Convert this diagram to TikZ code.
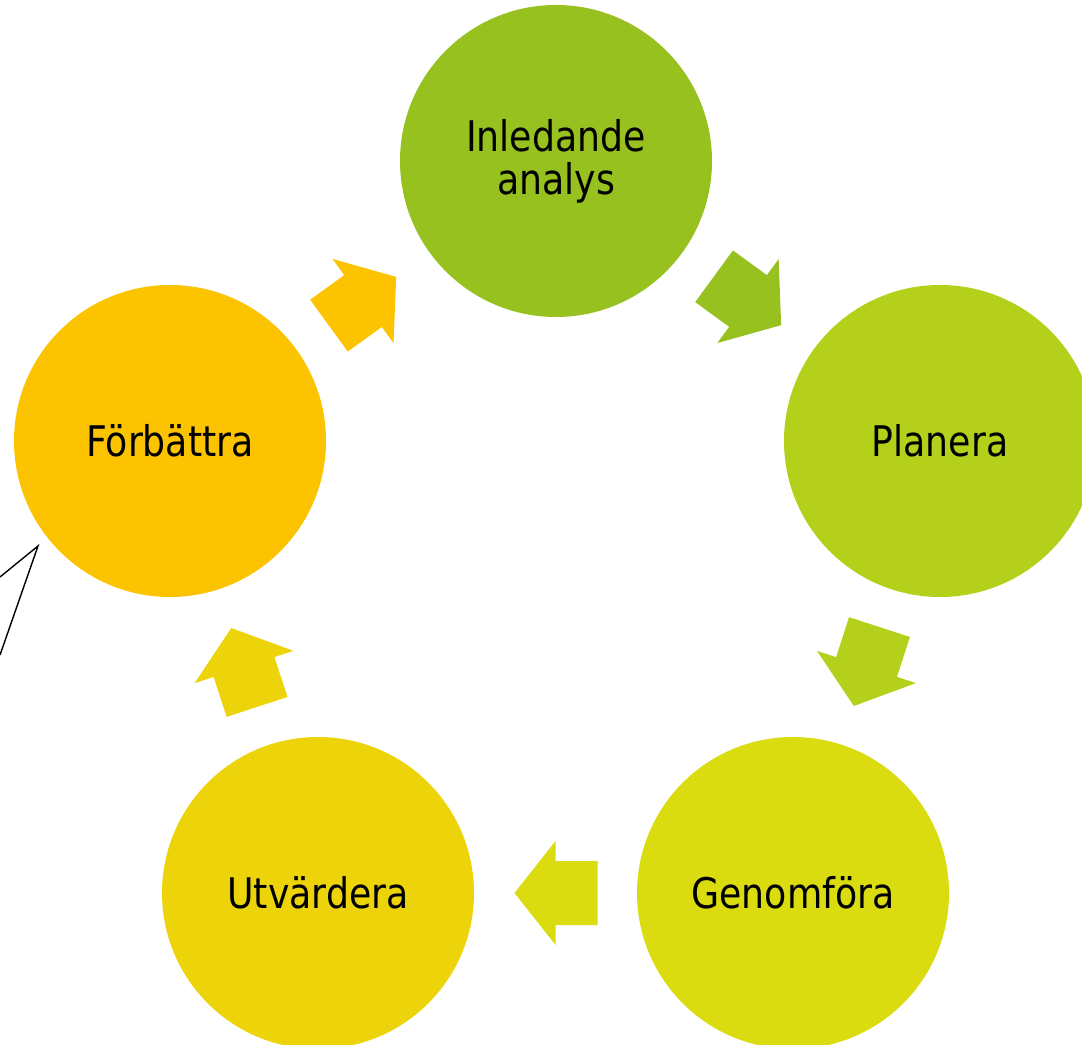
\documentclass[tikz,border=0pt]{standalone}
\usepackage{fontspec}
\setmainfont{DejaVu Sans}[FakeStretch=0.86]
\usepackage{tikz}
\usetikzlibrary{calc}
\usetikzlibrary{positioning}
\definecolor{analyscol}{HTML}{96C11F}
\definecolor{planeracol}{HTML}{B4D01A}
\definecolor{genomforacol}{HTML}{DADC10}
\definecolor{utvarderacol}{HTML}{EDD40A}
\definecolor{forbattracol}{HTML}{FCC300}
\tikzset{phase/.style = {circle, inner sep = 0, minimum size = 31.2mm, align = center,
    font = \fontsize{12pt}{12.3pt}\selectfont}}
\newcommand{\phasearrow}[3]{%
    \pgfmathanglebetweenpoints{\pgfpointanchor{#1}{center}}{\pgfpointanchor{#2}{center}}%
    \let\arrowangle\pgfmathresult
    \fill[#3, shift = {($(#1)!0.5!(#2)$)}, rotate = \arrowangle]
        (-42, 32) -- (0, 32) -- (0, 52) -- (41, 0) -- (0, -52) -- (0, -32) -- (-42, -32) -- cycle;
}

\begin{document}
\begin{tikzpicture}[x = 0.1mm, y = -0.1mm]
    \useasboundingbox (0, 0) rectangle (1082, 1045);

    \node[phase, fill = analyscol] (analys) at (556, 161) {Inledande\\analys};
    \node[phase, fill = planeracol] (planera) at (940, 441) {Planera};
    \node[phase, fill = genomforacol] (genomfora) at (793, 893) {Genomföra};
    \node[phase, fill = utvarderacol] (utvardera) at (318, 893) {Utvärdera};
    \node[phase, fill = forbattracol] (forbattra) at (170, 441) {Förbättra};

    \phasearrow{analys}{planera}{analyscol}
    \phasearrow{planera}{genomfora}{planeracol}
    \phasearrow{genomfora}{utvardera}{genomforacol}
    \phasearrow{utvardera}{forbattra}{utvarderacol}
    \phasearrow{forbattra}{analys}{forbattracol}

    % pekare
    \coordinate (tip) at (38, 546);
    \coordinate (upper) at (0, 577);
    \coordinate (lower) at (0, 655);
    \draw[line width = 0.4pt] (upper) -- (tip) -- (lower);
\end{tikzpicture}
\end{document}
